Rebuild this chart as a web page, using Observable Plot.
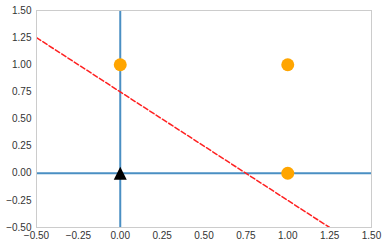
<!DOCTYPE html>
<html>
<head>
<meta charset="utf-8">
<script src="https://cdn.jsdelivr.net/npm/d3@7"></script>
<script src="https://cdn.jsdelivr.net/npm/@observablehq/plot@0.6"></script>
<style>
  html, body { margin: 0; padding: 0; background: #fff; }
  svg { display: block; }
</style>
</head>
<body>
<div id="chart"></div>
<script>
const circleX = [0, 1, 1];
const circleY = [1, 1, 0];
const triX = [0];
const triY = [0];
const lineX = [-0.5, 1.25];
const lineY = [1.25, -0.5];
const ticks = [-0.5, -0.25, 0, 0.25, 0.5, 0.75, 1, 1.25, 1.5];

const circles = circleX.map((x, i) => ({x, y: circleY[i]}));
const tris = triX.map((x, i) => ({x, y: triY[i]}));
const line = lineX.map((x, i) => ({x, y: lineY[i]}));

const triangle = {
  draw(ctx, size) {
    const r = Math.sqrt(size / Math.PI);
    ctx.moveTo(0, -r);
    ctx.lineTo(r, r);
    ctx.lineTo(-r, r);
    ctx.closePath();
  }
};

const fmt = d => d3.format(".2f")(d).replace("-", "\u2212");

const chart = Plot.plot({
  width: 388,
  height: 247,
  marginLeft: 36,
  marginRight: 17,
  marginTop: 10,
  marginBottom: 20,
  style: {fontFamily: "'Liberation Sans', Arial, sans-serif", fontSize: "10px", color: "#333", background: "#fff"},
  x: {domain: [-0.5, 1.5], ticks, tickFormat: fmt, label: null},
  y: {domain: [-0.5, 1.5], ticks, tickFormat: fmt, label: null},
  marks: [
    Plot.axisX({ticks, tickFormat: fmt, tickSize: 0, tickPadding: 4, fontSize: 10, label: null}),
    Plot.axisY({ticks, tickFormat: fmt, tickSize: 0, tickPadding: 5, fontSize: 10, label: null}),
    Plot.ruleX([0], {stroke: "#4a8fc3", strokeWidth: 2}),
    Plot.ruleY([0], {stroke: "#4a8fc3", strokeWidth: 2}),
    Plot.line(line, {x: "x", y: "y", stroke: "#ff2020", strokeWidth: 1.5, strokeDasharray: "5,2.5", clip: true}),
    Plot.dot(circles, {x: "x", y: "y", r: 6.5, fill: "orange", stroke: "none"}),
    Plot.dot(tris, {x: "x", y: "y", r: 6.5, symbol: triangle, fill: "black", stroke: "none"}),
    Plot.frame({stroke: "#cccccc", strokeWidth: 1})
  ]
});
document.getElementById("chart").appendChild(chart);
</script>
</body>
</html>
